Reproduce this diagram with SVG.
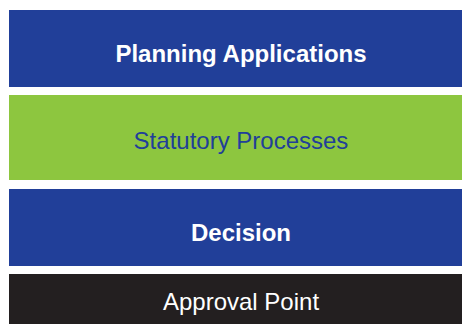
<svg xmlns="http://www.w3.org/2000/svg" width="462" height="324" viewBox="0 0 462 324">
<style>
.t{font-family:"Liberation Sans",Arial,sans-serif;font-size:24px;text-anchor:middle}
.b{font-weight:bold}
</style>
<rect width="462" height="324" fill="#ffffff"/>
<g id="planning">
<rect x="9" y="10" width="460" height="77" fill="#213f99"/>
<text class="t b" x="241" y="62" fill="#ffffff">Planning Applications</text>
</g>
<g id="statutory">
<rect x="9" y="95" width="460" height="85" fill="#8dc63f"/>
<text class="t" x="241" y="149" fill="#213f99">Statutory Processes</text>
</g>
<g id="decision">
<rect x="9" y="189" width="460" height="77" fill="#213f99"/>
<text class="t b" x="241" y="241" fill="#ffffff">Decision</text>
</g>
<g id="approval">
<rect x="9" y="274" width="460" height="60" fill="#231f20"/>
<text class="t" x="241" y="310" fill="#ffffff">Approval Point</text>
</g>
<g id="connectors"></g>
</svg>
